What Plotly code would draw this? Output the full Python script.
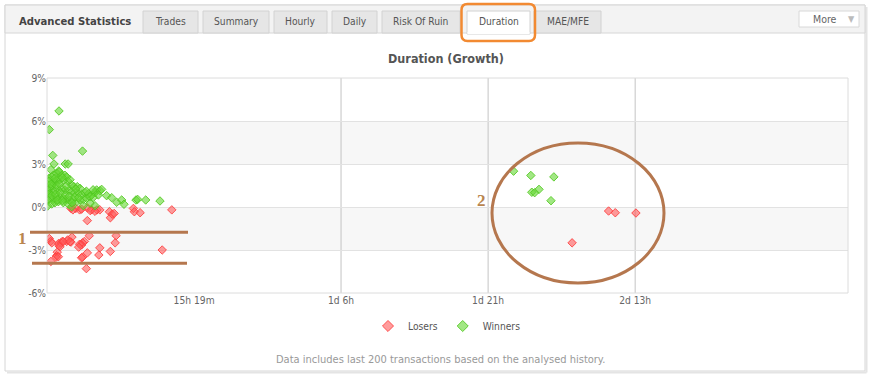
import plotly.graph_objects as go

# ---------------- data ----------------
WIN_HOURS = [1.25, 0.24, 3.7, 0.6, 0.73, 1.9, 2.2, 0.4, 1.2,
             0.24, 0.49, 0.66, 1.01, 1.28, 1.53, 1.87, 2.05, 0.07, 0.14, 0.31, 0.49, 0.66, 0.83,
             1.08, 1.35, 1.70, 2.22, 2.57, 2.81, 3.16, 3.44, 0.31, 0.59, 0.83, 1.18, 1.53, 1.87,
             2.22, 2.57, 2.92, 3.26, 3.61, 3.96, 4.31, 4.65, 5.0, 5.17, 5.52, 0.07, 0.31, 0.66,
             1.01, 1.35, 1.70, 2.05, 2.40, 2.74, 3.09, 3.44, 3.78, 4.13, 4.48, 4.82, 0.07, 0.49,
             0.83, 1.18, 1.70, 2.22, 2.57, 3.78, 5.0, 4.48, 5.35, 5.69, 6.21, 6.74, 7.26, 7.78,
             8.02, 9.27, 9.44, 10.28, 11.77,
             0.2, 0.4, 0.15, 0.5, 0.9, 1.1, 1.4, 1.6, 1.9, 2.3, 2.6, 2.9, 3.3, 3.0, 1.0, 1.3,
             2.0, 0.8, 1.6, 2.4, 4.1, 4.8,
             48.6, 50.4, 52.8, 50.5, 50.8, 51.25, 52.5]
WIN_PCT = [6.7, 5.4, 3.9, 3.6, 3.0, 3.0, 3.0, 2.6, 2.5,
           2.02, 2.09, 2.21, 2.35, 2.47, 2.21, 2.21, 2.09, 1.54, 1.19, 1.30, 1.47, 1.65, 1.77,
           1.81, 1.91, 1.86, 1.77, 1.54, 1.42, 1.42, 1.30, 0.95, 1.0, 1.14, 1.23, 1.30, 1.19,
           1.14, 1.07, 1.0, 0.95, 0.88, 1.0, 0.91, 0.84, 1.0, 1.19, 1.14, 0.49, 0.60, 0.53,
           0.67, 0.72, 0.60, 0.53, 0.49, 0.53, 0.37, 0.49, 0.53, 0.60, 0.72, 0.67, 0.07, 0.21,
           0.30, 0.37, 0.30, 0.19, 0.02, 0.09, 0.09, 0.26, 0.84, 1.23, 0.79, 0.65, 0.33, 0.49,
           0.19, 0.49, 0.53, 0.49, 0.42,
           1.8, 1.6, 0.9, 0.8, 0.9, 0.5, 1.0, 0.45, 0.85, 0.75, 0.3, 0.7, 0.65, 1.25, 1.5, 1.6,
           1.45, 2.0, 2.05, 1.9, 1.1, 1.2,
           2.5, 2.2, 2.1, 1.03, 1.0, 1.23, 0.44]

LOSE_HOURS = [13.0, 12.0, 9.0, 9.1, 9.7, 6.5, 6.6, 6.8, 7.0, 7.2, 7.1, 6.6, 5.5, 5.4, 4.2, 4.4,
              4.2, 3.7, 4.1, 3.9, 3.7, 3.6, 3.4, 3.3, 2.6, 2.5, 2.05, 2.15, 1.6, 1.45, 1.2, 1.25,
              1.07, 1.0, 0.94, 0.24, 0.38, 0.5, 0.4, 2.5, 3.4, 4.2, 4.65, 5.2, 5.5, 3.0, 3.6, 4.5,
              5.0, 2.7, 1.35, 1.7, 2.4, 3.6, 1.18,
              58.5, 59.2, 61.35, 54.7]
LOSE_PCT = [-0.2, -3.0, -0.1, -0.33, -0.4, -0.33, -0.75, -0.5, -0.45, -2.0, -2.5, -3.1, -2.85,
            -3.35, -0.95, -2.0, -3.2, -3.5, -4.3, -2.4, -2.5, -2.65, -2.6, -2.8, -2.1, -2.45,
            -2.4, -2.3, -2.4, -2.5, -2.55, -2.7, -3.15, -3.4, -3.5, -2.2, -2.4, -2.5, -3.8, -0.1,
            -0.2, -0.05, -0.2, -0.2, -0.2, -0.1, -0.15, -0.25, -0.3, -0.2, -2.77, -2.42, -2.42,
            -3.54, -3.47,
            -0.28, -0.4, -0.42, -2.5]

X_TICK_HOURS = [15.32, 30.63, 45.95, 61.27]
X_TICK_TEXT = ["15h 19m", "1d 6h", "1d 21h", "2d 13h"]
Y_TICKS = [-6, -3, 0, 3, 6, 9]
Y_TICK_TEXT = ["-6%", "-3%", "0%", "3%", "6%", "9%"]
BANDS = [(3, 6), (-3, 0)]
TABS = ["Trades", "Summary", "Hourly", "Daily", "Risk Of Ruin", "Duration", "MAE/MFE"]
ACTIVE_TAB = "Duration"

# ---------------- layout helpers ----------------
W, H = 877, 380
L, R, T, B = 47, 848, 78, 293
FONT = "DejaVu Sans Condensed"


def px(x):
    return (x - L) / (R - L)


def py(y):
    return (B - y) / (B - T)


shapes = []
annotations = []

# panel
shapes.append(dict(type="rect", xref="paper", yref="paper", x0=px(5), x1=px(865), y0=py(5), y1=py(371),
                   line=dict(color="#d6d6d6", width=1), fillcolor="white", layer="below"))
shapes.append(dict(type="line", xref="paper", yref="paper", x0=px(866.5), x1=px(866.5), y0=py(7), y1=py(372.5),
                   line=dict(color="#e4e4e4", width=2), layer="below"))
shapes.append(dict(type="line", xref="paper", yref="paper", x0=px(7), x1=px(866.5), y0=py(372.5), y1=py(372.5),
                   line=dict(color="#e4e4e4", width=2), layer="below"))
# header bar
shapes.append(dict(type="rect", xref="paper", yref="paper", x0=px(5), x1=px(865), y0=py(5), y1=py(33),
                   line=dict(color="#d6d6d6", width=1), fillcolor="#f3f3f3", layer="below"))
annotations.append(dict(xref="paper", yref="paper", x=px(17), y=py(21), text="<b>Advanced Statistics</b>",
                        showarrow=False, xanchor="left", yanchor="middle",
                        font=dict(family=FONT, size=11.2, color="#444")))

tab_bounds = [(143, 198), (203, 269), (274, 327), (332, 377), (382, 460), (467, 530), (534, 601)]
for name, (a, b) in zip(TABS, tab_bounds):
    active = name == ACTIVE_TAB
    shapes.append(dict(type="rect", xref="paper", yref="paper", x0=px(a), x1=px(b), y0=py(11),
                       y1=py(34 if active else 33),
                       line=dict(color="#d2d2d2", width=1),
                       fillcolor="white" if active else "#e6e6e6", layer="below"))
    if active:
        shapes.append(dict(type="line", xref="paper", yref="paper", x0=px(a + 0.5), x1=px(b - 0.5),
                           y0=py(33), y1=py(33), line=dict(color="white", width=2), layer="below"))
    annotations.append(dict(xref="paper", yref="paper", x=px((a + b) / 2), y=py(22), text=name,
                            showarrow=False, xanchor="center", yanchor="middle",
                            font=dict(family=FONT, size=10.2, color="#555")))

# More button
shapes.append(dict(type="rect", xref="paper", yref="paper", x0=px(799), x1=px(859), y0=py(11), y1=py(27),
                   line=dict(color="#d8d8d8", width=1), fillcolor="white", layer="below"))
annotations.append(dict(xref="paper", yref="paper", x=px(825), y=py(19), text="More", showarrow=False,
                        xanchor="center", yanchor="middle", font=dict(family=FONT, size=10.5, color="#666")))
annotations.append(dict(xref="paper", yref="paper", x=px(851), y=py(19), text="▼", showarrow=False,
                        xanchor="center", yanchor="middle", font=dict(family=FONT, size=9, color="#bbb")))

# chart bands & gridlines
for lo, hi in BANDS:
    shapes.append(dict(type="rect", xref="paper", yref="y", x0=0, x1=1, y0=lo, y1=hi,
                       line=dict(width=0), fillcolor="#f7f7f7", layer="below"))
for xv in X_TICK_HOURS[1:]:
    shapes.append(dict(type="line", xref="x", yref="paper", x0=xv, x1=xv, y0=0, y1=1,
                       line=dict(color="#c4c4c4", width=1), layer="below"))
shapes.append(dict(type="rect", xref="paper", yref="paper", x0=0, x1=1, y0=0, y1=1,
                   line=dict(color="#dcdcdc", width=1), layer="above"))

# title
annotations.append(dict(xref="paper", yref="paper", x=px(446), y=py(58), text="<b>Duration (Growth)</b>",
                        showarrow=False, xanchor="center", yanchor="middle",
                        font=dict(family=FONT, size=12.5, color="#555")))
# footer
annotations.append(dict(xref="paper", yref="paper", x=px(440), y=py(359),
                        text="Data includes last 200 transactions based on the analysed history.",
                        showarrow=False, xanchor="center", yanchor="middle",
                        font=dict(family=FONT, size=11, color="#999")))

# hand-drawn annotations
BROWN = "#b5774e"
shapes.append(dict(type="line", xref="paper", yref="paper", x0=px(30), x1=px(188), y0=py(232.3), y1=py(232.3),
                   line=dict(color=BROWN, width=3), layer="above"))
shapes.append(dict(type="line", xref="paper", yref="paper", x0=px(32), x1=px(187), y0=py(263.3), y1=py(263.3),
                   line=dict(color=BROWN, width=3), layer="above"))
shapes.append(dict(type="circle", xref="paper", yref="paper", x0=px(492), x1=px(664), y0=py(143), y1=py(283),
                   line=dict(color=BROWN, width=3), layer="above"))
annotations.append(dict(xref="paper", yref="paper", x=px(22.5), y=py(238.5), text="<b>1</b>", showarrow=False,
                        xanchor="center", yanchor="middle",
                        font=dict(family="Liberation Serif", size=17, color="#b9864f")))
annotations.append(dict(xref="paper", yref="paper", x=px(481), y=py(200.5), text="<b>2</b>", showarrow=False,
                        xanchor="center", yanchor="middle",
                        font=dict(family="Liberation Serif", size=17, color="#b9864f")))

# orange rounded box around active tab
x0, x1, y0, y1, r = 461.5, 535, 4, 41, 6


def P(x, y):
    return f"{px(x):.5f},{py(y):.5f}"


path = (f"M {P(x0 + r, y0)} L {P(x1 - r, y0)} Q {P(x1, y0)} {P(x1, y0 + r)} "
        f"L {P(x1, y1 - r)} Q {P(x1, y1)} {P(x1 - r, y1)} L {P(x0 + r, y1)} "
        f"Q {P(x0, y1)} {P(x0, y1 - r)} L {P(x0, y0 + r)} Q {P(x0, y0)} {P(x0 + r, y0)} Z")
shapes.append(dict(type="path", xref="paper", yref="paper", path=path,
                   line=dict(color="#f28a32", width=2.5), layer="above"))

# ---------------- figure ----------------
LOSE_STYLE = dict(symbol="diamond", color="rgba(255,90,90,0.6)", line=dict(color="rgba(255,60,60,0.85)", width=1))
WIN_STYLE = dict(symbol="diamond", color="rgba(100,215,50,0.6)", line=dict(color="rgba(80,200,30,0.85)", width=1))

fig = go.Figure()
fig.add_trace(go.Scatter(x=LOSE_HOURS, y=LOSE_PCT, mode="markers", name="Losers", showlegend=False,
                         legendgroup="l", marker=dict(size=6.5, **LOSE_STYLE)))
fig.add_trace(go.Scatter(x=WIN_HOURS, y=WIN_PCT, mode="markers", name="Winners", showlegend=False,
                         legendgroup="w", marker=dict(size=6.5, **WIN_STYLE)))
# legend entries (no data of their own)
fig.add_trace(go.Scatter(x=[None], y=[None], mode="markers", name="Losers", legendgroup="l",
                         marker=dict(size=8.5, **LOSE_STYLE)))
fig.add_trace(go.Scatter(x=[None], y=[None], mode="markers", name="Winners", legendgroup="w",
                         marker=dict(size=8.5, **WIN_STYLE)))

fig.update_layout(
    width=W, height=H, autosize=False,
    margin=dict(l=L, r=W - R, t=T, b=H - B, pad=0),
    paper_bgcolor="white", plot_bgcolor="white",
    font=dict(family=FONT, size=10.2, color="#666"),
    showlegend=True,
    legend=dict(orientation="h", x=px(447), y=py(326), xanchor="center", yanchor="middle",
                font=dict(family=FONT, size=10.2, color="#555"), bgcolor="rgba(0,0,0,0)",
                itemsizing="trace", itemwidth=30),
    shapes=shapes, annotations=annotations,
    xaxis=dict(range=[0, 83.44], tickvals=X_TICK_HOURS, ticktext=X_TICK_TEXT, showgrid=False,
               zeroline=False, showline=False, ticks="", tickfont=dict(size=10.2, color="#666"),
               fixedrange=True),
    yaxis=dict(range=[-6, 9], tickvals=Y_TICKS, ticktext=Y_TICK_TEXT, showgrid=True,
               gridcolor="#e2e2e2", gridwidth=1, zeroline=False, showline=False, ticks="",
               tickfont=dict(size=10.2, color="#666"), fixedrange=True),
)

fig.write_html("out.html", config={"displayModeBar": False},
               post_script="document.body.style.margin='0';document.body.style.padding='0';")
